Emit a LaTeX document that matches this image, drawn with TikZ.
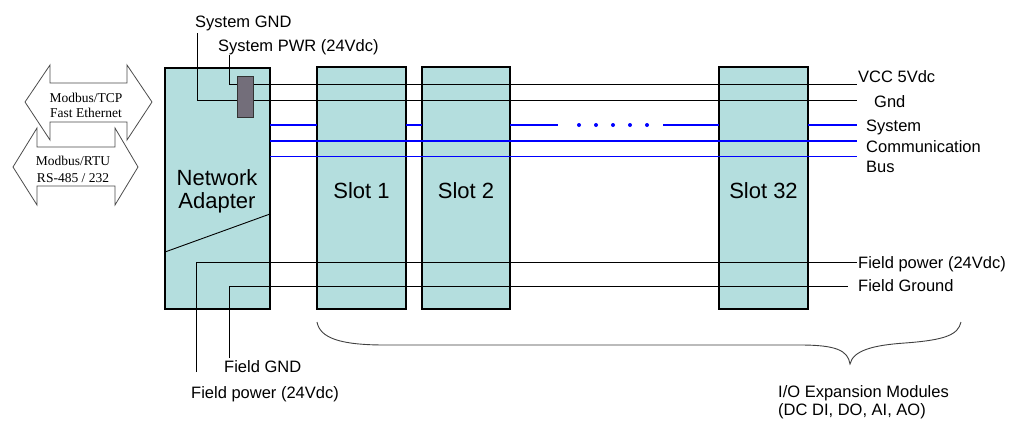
\documentclass[tikz,border=0pt]{standalone}
\usepackage{fontspec}
\setmainfont{Liberation Sans}
\newfontfamily\serifarrow{Liberation Serif}
\definecolor{boxfill}{RGB}{180,222,222}
\definecolor{busblue}{RGB}{0,0,255}
\definecolor{conngray}{RGB}{115,110,122}
\begin{document}
\begin{tikzpicture}[x=1pt,y=-1pt,
  box/.style={draw=black,line width=1.1pt,fill=boxfill},
  wire/.style={draw=black,line width=0.9pt},
  bus/.style={draw=busblue,line width=1.3pt},
  lbl/.style={inner sep=0pt,anchor=base west,font=\fontsize{16.5}{18}\selectfont},
  big/.style={inner sep=0pt,anchor=base,font=\fontsize{22}{25}\selectfont},
  arrtxt/.style={inner sep=0pt,anchor=base,font=\serifarrow\fontsize{13.5}{15}\selectfont},
  blockarrow/.style={draw=black!70,line width=0.8pt,fill=white},
  dot/.style={circle,fill=busblue,inner sep=0pt,minimum size=4pt}
]
\useasboundingbox[fill=white] (0,0) rectangle (1011,421);

% block arrows
\draw[blockarrow] (25,102) -- (50,65) -- (50,83) -- (127,83) -- (127,65) -- (152,102)
  -- (127,140) -- (127,122) -- (50,122) -- (50,140) -- cycle;
\draw[blockarrow] (13,167) -- (37,128) -- (37,147) -- (115,147) -- (115,128) -- (138,167)
  -- (115,205) -- (115,186) -- (37,186) -- (37,205) -- cycle;
\node[arrtxt] (tcp1) at (86,102) {Modbus/TCP};
\node[arrtxt] (tcp2) at (86,117) {Fast Ethernet};
\node[arrtxt] (rtu1) at (73,165) {Modbus/RTU};
\node[arrtxt] (rtu2) at (73,182) {RS-485 / 232};

% boxes
\draw[box] (165,68) rectangle (270,309);
\draw[box] (317,67) rectangle (406,309);
\draw[box] (422,67) rectangle (510,309);
\draw[box] (719,67) rectangle (808,309);
\draw[wire] (165,252) -- (270,214);

\node[big] (na1) at (217,185) {Network};
\node[big] (na2) at (217,208) {Adapter};
\node[big] (s1) at (361.5,198) {Slot 1};
\node[big] (s2) at (466,198) {Slot 2};
\node[big] (s32) at (763.5,198) {Slot 32};

% coordinates of wire ends
\coordinate (gndTop) at (197.5,33);
\coordinate (pwrTop) at (229.5,55);
\coordinate (blkL1) at (237,84.5);
\coordinate (blkL2) at (237,100.5);
\coordinate (blkR1) at (253,84.5);
\coordinate (blkR2) at (253,100.5);
\coordinate (vccEnd) at (857,84.5);
\coordinate (gndEnd) at (857,100.5);
\coordinate (fpBot) at (196.5,372);
\coordinate (fgBot) at (229.5,358);
\coordinate (fpEnd) at (857,262.5);
\coordinate (fgEnd) at (848,286.5);

% system power wires
\draw[wire] (gndTop) |- (blkL2);
\draw[wire] (pwrTop) |- (blkL1);
\draw[wire] (blkR1) -- (vccEnd);
\draw[wire] (blkR2) -- (gndEnd);
\draw[draw=black!80,line width=0.8pt,fill=conngray] (237,76) rectangle (253,117);

% system bus
\draw[bus] (270,125) -- (317,125);
\draw[bus] (406,125) -- (422,125);
\draw[bus] (510,125) -- (558,125);
\foreach \i/\xx in {1/579,2/596,3/613,4/630,5/647} \node[dot] (d\i) at (\xx,125) {};
\draw[bus] (663,125) -- (719,125);
\draw[bus] (808,125) -- (857,125);
\draw[bus] (270,141) -- (857,141);
\draw[bus] (270,156.5) -- (857,156.5);

% field wires
\draw[wire] (fpBot) |- (fpEnd);
\draw[wire] (fgBot) |- (fgEnd);

% labels
\node[lbl] (lsg) at (195,27) {System GND};
\node[lbl] (lsp) at (218,51) {System PWR (24Vdc)};
\node[lbl] (lvcc) at (858,82) {VCC 5Vdc};
\node[lbl] (lgnd) at (874,107) {Gnd};
\node[lbl] (lsys) at (866,131) {System};
\node[lbl] (lcom) at (866,152) {Communication};
\node[lbl] (lbus) at (866,172) {Bus};
\node[lbl] (lfp) at (858,268) {Field power (24Vdc)};
\node[lbl] (lfg) at (858,291) {Field Ground};
\node[lbl] (lfgnd) at (224,372) {Field GND};
\node[lbl] (lfpw) at (191,398) {Field power (24Vdc)};
\node[lbl] (lio1) at (778,397) {I/O Expansion Modules};
\node[lbl] (lio2) at (778,415) {(DC DI, DO, AI, AO)};

% brace
\draw[draw=black!75,line width=0.9pt] (317,322) .. controls (320,338) and (340,345) .. (385,345)
  -- (800,345) .. controls (835,345) and (848,350) .. (850,364)
  .. controls (853,350) and (875,345) .. (905,343) .. controls (945,340) and (958,335) .. (961,322);
\end{tikzpicture}
\end{document}
